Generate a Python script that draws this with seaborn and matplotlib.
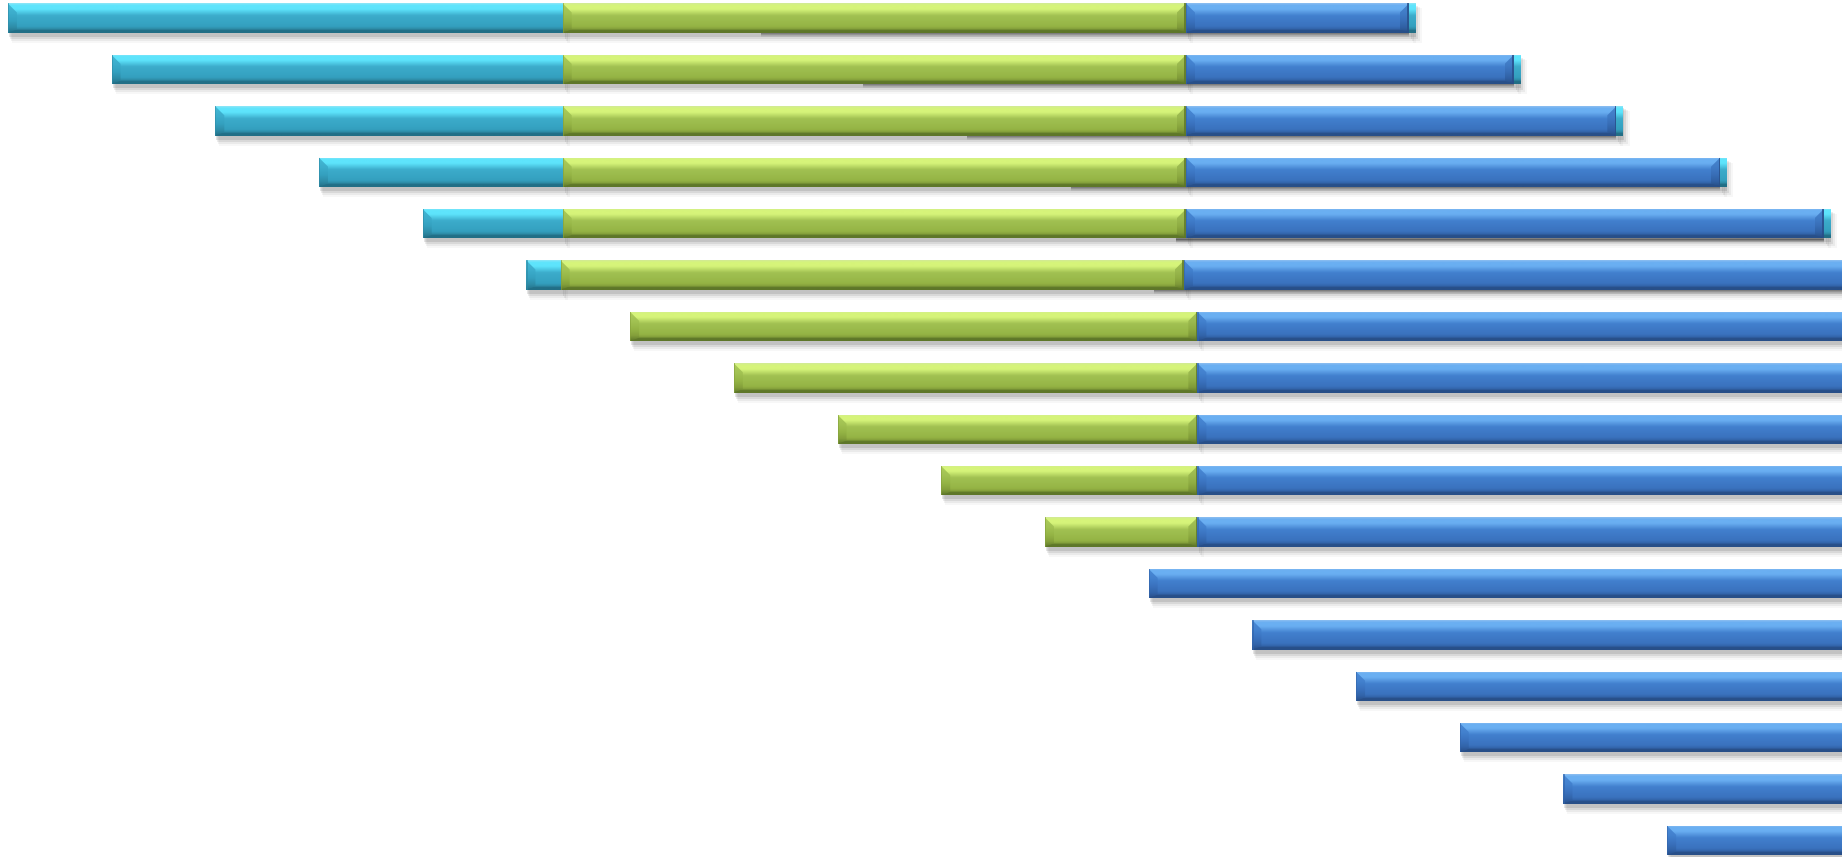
import numpy as np
import pandas as pd
import matplotlib
matplotlib.use("Agg")
import matplotlib.pyplot as plt
import seaborn as sns
from matplotlib.colors import to_rgb
from matplotlib.patches import Polygon, Rectangle

# ---------------- data (x in chart units, rows top -> bottom) ----------------
cyan_rows = [0, 1, 2, 3, 4, 5]
cyan_start = [0.0, 1.0, 2.0, 3.0, 4.0, 5.0]
cyan_end = [5.35, 5.35, 5.35, 5.35, 5.35, 5.33]

green_rows = [0, 1, 2, 3, 4, 5, 6, 7, 8, 9, 10]
green_start = [5.35, 5.35, 5.35, 5.35, 5.35, 5.33, 6.0, 7.0, 8.0, 9.0, 10.0]
green_end = [11.36, 11.36, 11.36, 11.36, 11.36, 11.34, 11.47, 11.47, 11.47, 11.47, 11.47]

blue_rows = [0, 1, 2, 3, 4, 5, 6, 7, 8, 9, 10, 11, 12, 13, 14, 15, 16]
blue_start = [11.36, 11.36, 11.36, 11.36, 11.36, 11.34, 11.47, 11.47, 11.47, 11.47, 11.47,
              11.0, 12.0, 13.0, 14.0, 15.0, 16.0]
blue_end = [13.51, 14.52, 15.51, 16.51, 17.51, 18.5, 19.5, 20.5, 21.5, 22.5, 23.5,
            24.5, 25.5, 26.5, 27.5, 28.5, 29.5]

tab_rows = [0, 1, 2, 3, 4]
tab_start = [13.51, 14.52, 15.51, 16.51, 17.51]
tab_end = [13.57, 14.58, 15.57, 16.57, 17.57]

shadow_rows = [0, 1, 2, 3, 4, 5]
shadow_start = [7.26, 8.25, 9.25, 10.25, 11.26, 11.05]
shadow_end = [13.51, 14.52, 15.51, 16.51, 17.51, 18.5]

# ---------------- styles ----------------
PAL = {
    "cyan":  dict(top="#8EE6F7", bright="#5EE4FC", hi="#3CACCB", body="#34A0BF", dk="#2E8BA6", dark="#226F86"),
    "green": dict(top="#D2EA96", bright="#D6F47A", hi="#A1C152", body="#95B445", dk="#84A03B", dark="#5E7729"),
    "blue":  dict(top="#8CBEF0", bright="#6AAFF2", hi="#4280CE", body="#3A72BE", dk="#3264AA", dark="#284F88"),
}
BAR_H = 0.572
PX_X = 1 / 103.7
PX_Y = 1 / 51.39
BX, BY = 9 * PX_X, 9 * PX_Y

sns.set_theme(style="white")
fig = plt.figure(figsize=(18.42, 8.57), dpi=100)
fig.patch.set_facecolor("white")
ax = fig.add_axes([0, 0, 1, 1])
ax.set_facecolor("white")


def mix(c1, c2, t):
    a, b = np.array(to_rgb(c1)), np.array(to_rgb(c2))
    return tuple(a * (1 - t) + b * t)


def grad(stops, n=64):
    t = np.linspace(0, 1, n)
    pos = [s[0] for s in stops]
    cols = np.array([to_rgb(s[1]) for s in stops])
    arr = np.stack([np.interp(t, pos, cols[:, k]) for k in range(3)], axis=-1)
    return arr[:, None, :]


def draw_series(rows, starts, ends, name, z, left=True, right=True):
    p = PAL[name]
    df = pd.DataFrame({"row": rows, "width": np.array(ends) - np.array(starts)})
    n0 = len(ax.patches)
    sns.barplot(data=df, x="width", y="row", orient="y", native_scale=True,
                left=starts, width=BAR_H, color=p["body"], saturation=1,
                errorbar=None, linewidth=0, ax=ax, zorder=z)
    patches = ax.patches[n0:]
    main = grad([(0.0, p["top"]), (0.07, p["bright"]), (0.2, p["bright"]), (0.42, p["hi"]),
                 (0.78, p["body"]), (0.87, p["dk"]), (0.92, p["dark"]), (1.0, p["dark"])])
    side = grad([(0.0, mix(p["bright"], p["hi"], 0.75)), (0.35, p["hi"]),
                 (0.6, p["body"]), (0.82, p["dk"]), (1.0, p["dark"])])
    for r in patches:
        x0, y0, w, h = r.get_x(), r.get_y(), r.get_width(), r.get_height()
        x1, top, bot = x0 + w, y0, y0 + h
        r.set_zorder(z)
        # soft drop shadow
        for k, a in enumerate([0.10, 0.07, 0.05, 0.03]):
            sh = Rectangle((x0 + (1 + k) * PX_X, top + (2 + k) * PX_Y), w + k * PX_X,
                           h + (2 + k) * PX_Y, facecolor="black", alpha=a,
                           linewidth=0, zorder=1)
            ax.add_patch(sh)
        im = ax.imshow(main, extent=(x0, x1, bot, top), origin="upper", aspect="auto",
                       interpolation="bilinear", zorder=z + 0.1)
        im.set_clip_path(r)
        if left:
            poly = Polygon([(x0, top), (x0 + BX, top + BY), (x0 + BX, bot - BY * 0.4), (x0, bot)],
                           closed=True, facecolor="none", edgecolor="none", zorder=z + 0.2)
            ax.add_patch(poly)
            im2 = ax.imshow(side, extent=(x0, x0 + BX, bot, top), origin="upper", aspect="auto",
                            interpolation="bilinear", zorder=z + 0.2)
            im2.set_clip_path(poly)
            ax.add_patch(Rectangle((x0, top), 1.2 * PX_X, h, facecolor=p["dk"], alpha=0.6,
                                   linewidth=0, zorder=z + 0.3))
        if right:
            poly = Polygon([(x1, top), (x1 - BX, top + BY), (x1 - BX, bot - BY * 0.4), (x1, bot)],
                           closed=True, facecolor="none", edgecolor="none", zorder=z + 0.2)
            ax.add_patch(poly)
            im3 = ax.imshow(side * 0.96, extent=(x1 - BX, x1, bot, top), origin="upper",
                            aspect="auto", interpolation="bilinear", zorder=z + 0.2)
            im3.set_clip_path(poly)
            ax.add_patch(Rectangle((x1 - 1.5 * PX_X, top), 1.5 * PX_X, h, facecolor=p["dark"],
                                   alpha=0.8, linewidth=0, zorder=z + 0.3))
    return patches


# darker shadow strips under the upper rows
for r, s, e in zip(shadow_rows, shadow_start, shadow_end):
    bot = r + BAR_H / 2
    for k, a in enumerate([0.45, 0.3, 0.15, 0.07]):
        ax.add_patch(Rectangle((s, bot + k * PX_Y), e - s, PX_Y * 1.2, facecolor="#2b2b2b",
                               alpha=a, linewidth=0, zorder=1.5))

draw_series(cyan_rows, cyan_start, cyan_end, "cyan", 2, left=True, right=False)
draw_series(green_rows, green_start, green_end, "green", 3, left=True, right=True)
draw_series(blue_rows, blue_start, blue_end, "blue", 4, left=True, right=True)
draw_series(tab_rows, tab_start, tab_end, "cyan", 5, left=False, right=False)

ax.set_xlim(-0.076, 17.686)
ax.set_ylim(16.32, -0.354)
ax.axis("off")

fig.savefig("out.png", dpi=100, facecolor="white")
